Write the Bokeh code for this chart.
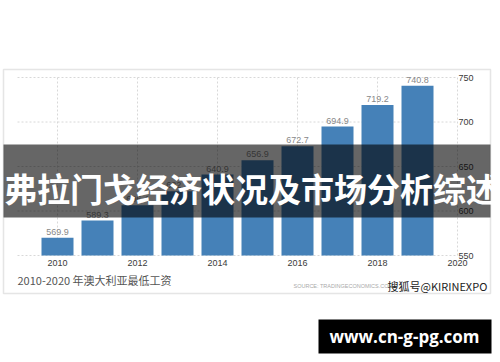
from bokeh.plotting import figure
from bokeh.models import Range1d, ColumnDataSource, Label, BoxAnnotation
from bokeh.core.properties import value
from bokeh.embed import file_html
from bokeh.resources import INLINE

# ---- data ----
years = [2010, 2011, 2012, 2013, 2014, 2015, 2016, 2017, 2018, 2019]
wages = [569.9, 589.3, 606.4, 622.2, 640.9, 656.9, 672.7, 694.9, 719.2, 740.8]
wage_labels = ["569.9", "589.3", "606.4", "622.2", "640.9", "656.9", "672.7", "694.9", "719.2", "740.8"]
x_ticks = [2010, 2012, 2014, 2016, 2018, 2020]
x_tick_labels = ["2010", "2012", "2014", "2016", "2018", "2020"]
y_ticks = [550, 600, 650, 700, 750]
y_tick_labels = ["550", "600", "650", "700", "750"]
x_min, x_max = 2009, 2020
y_min, y_max = 550, 750
caption = "2010-2020 年澳大利亚最低工资"
source_note = "SOURCE:  TRADINGECONOMICS.COM"
watermark = "搜狐号@KIRINEXPO"
banner_text = "弗拉门戈经济状况及市场分析综述"
site_text = "www.cn-g-pg.com"

W, H = 500, 362
# plot-area placement on the canvas (px): 2009 -> 17, 2020 -> 457, 550 -> 255, 750 -> 77
px_per_year = 40.0
px_per_unit = 178.0 / 200.0
x0 = x_min - 17 / px_per_year
x1 = x0 + W / px_per_year
y0 = y_min - (H - 255) / px_per_unit
y1 = y0 + H / px_per_unit

p = figure(width=W, height=H, output_backend="svg", toolbar_location=None,
           x_range=Range1d(x0, x1), y_range=Range1d(y0, y1),
           min_border=0)
p.axis.visible = False
p.grid.visible = False
p.outline_line_color = None
p.background_fill_color = "white"
p.border_fill_color = "white"

def sx(cx):
    return cx

def sy(cy):
    return H - cy

def scr_box(l, t, r, b, **kw):
    return BoxAnnotation(left=sx(l), right=sx(r), top=sy(t), bottom=sy(b),
                         left_units="screen", right_units="screen",
                         top_units="screen", bottom_units="screen", **kw)

# chart border
p.add_layout(scr_box(3, 69, 490, 293, fill_alpha=0, line_color="#a8a8a8",
                     line_width=1.5, level="underlay"))

# grid lines (from tick arrays)
p.segment(x0=x_ticks, x1=x_ticks, y0=[y_min] * len(x_ticks), y1=[y_max] * len(x_ticks),
          line_color="#d8d8d8", line_dash="2 2", line_width=1)
p.segment(x0=[x_min] * len(y_ticks), x1=[x_max] * len(y_ticks), y0=y_ticks, y1=y_ticks,
          line_color="#d8d8d8", line_dash="2 2", line_width=1)

# bars
src = ColumnDataSource(dict(x=years, top=wages, lab=wage_labels))
p.vbar(x="x", top="top", bottom=y_min, width=0.8, source=src,
       fill_color="#4581b8", line_color=None)

# value labels
p.text(x="x", y="top", text="lab", source=src, y_offset=-3,
       text_align="center", text_baseline="bottom",
       text_font=value("Liberation Sans"), text_font_size="9px", text_color="#888888")

# tick labels
p.text(x=x_ticks, y=[y_min] * len(x_ticks), text=x_tick_labels, y_offset=4,
       text_align="center", text_baseline="top",
       text_font=value("Liberation Sans"), text_font_size="9px", text_color="#3a3a3a")
p.text(x=[x_max] * len(y_ticks), y=y_ticks, text=y_tick_labels, x_offset=1,
       text_align="left", text_baseline="middle",
       text_font=value("Liberation Sans"), text_font_size="9px", text_color="#3a3a3a")

# captions
p.add_layout(Label(x=sx(17), y=sy(279), x_units="screen", y_units="screen",
                   text=caption, text_font="Noto Sans CJK SC", text_font_size="11px",
                   text_color="#555555", text_baseline="middle"))
p.add_layout(Label(x=sx(293), y=sy(285), x_units="screen", y_units="screen",
                   text=source_note, text_font="Liberation Sans", text_font_size="5.5px",
                   text_color="#aaaaaa", text_baseline="middle"))
p.add_layout(Label(x=sx(387), y=sy(285), x_units="screen", y_units="screen",
                   text=watermark, text_font="Noto Sans CJK SC", text_font_size="11px",
                   text_color="#222222", text_baseline="middle"))

# banner
p.add_layout(scr_box(3, 144, 490, 217, fill_color="black", fill_alpha=0.6, line_color=None))
p.add_layout(Label(x=sx(251), y=sy(187), x_units="screen", y_units="screen",
                   text=banner_text, text_font="Noto Sans CJK SC", text_font_size="33px",
                   text_font_style="bold", text_color="white",
                   text_align="center", text_baseline="middle"))

# site box
p.add_layout(scr_box(318, 319, 491, 353, fill_color="black", fill_alpha=1, line_color=None))
p.add_layout(Label(x=sx(404), y=sy(336), x_units="screen", y_units="screen",
                   text=site_text, text_font="Open Sans", text_font_size="17px",
                   text_font_style="bold", text_color="white",
                   text_align="center", text_baseline="middle"))

open("out.html", "w").write(file_html(p, INLINE))
